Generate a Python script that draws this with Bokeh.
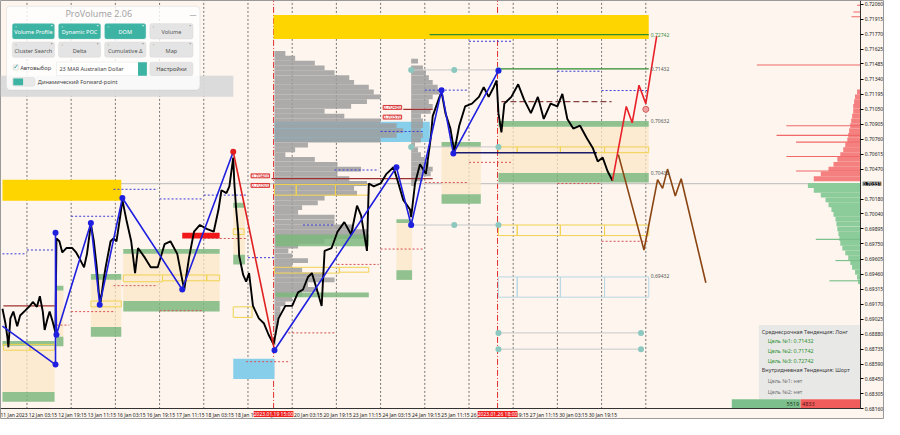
from bokeh.plotting import figure
from bokeh.models import Range1d, FixedTicker, Label, BoxAnnotation, NumeralTickFormatter, LinearAxis
from bokeh.embed import file_html
from bokeh.resources import INLINE

FONT = "Noto Sans"

# ---------------- time axis (trading hours from 11 Jan 2023 11:15) ----------------
tick_hours = [0, 16, 32, 48, 64, 80, 96, 112, 128, 144, 160, 176, 192, 208, 224, 240, 256, 272, 288, 304, 320]
tick_labels = ["11 Jan 2023", "12 Jan 03:15", "12 Jan 19:15", "13 Jan 11:15", "16 Jan 03:15", "16 Jan 19:15",
               "17 Jan 11:15", "18 Jan 03:15", "18 Jan 19:15", "19 Jan 11:15", "20 Jan 03:15", "20 Jan 19:15",
               "23 Jan 11:15", "24 Jan 03:15", "24 Jan 19:15", "25 Jan 11:15", "26 Jan 03:15", "26 Jan 19:15",
               "27 Jan 11:15", "30 Jan 03:15", "30 Jan 19:15"]
day_separators = [13.3, 37.3, 61.3, 85.3, 109.3, 133.3, 157.3, 181.3, 205.3, 229.3, 253.3, 277.3, 301.3, 325.3, 349.3]
marker_hours = [147.2, 268.8]
marker_texts = ["2023.01.19 15:00", "2023.01.26 18:00"]

price_ticks = [0.72060, 0.71915, 0.71770, 0.71625, 0.71485, 0.71340, 0.71195, 0.71050, 0.70905, 0.70760,
               0.70615, 0.70470, 0.70180, 0.70040, 0.69895, 0.69750, 0.69605, 0.69460, 0.69315, 0.69170,
               0.69025, 0.68880, 0.68735, 0.68590, 0.68450, 0.68305, 0.68160]
last_price = 0.70331

# ---------------- price path ----------------
price_h = [0, 1.6, 2.7, 3.2, 4.3, 5.9, 8.0, 9.6, 12.3, 14.9, 16.5, 18.7, 20.3, 21.9, 22.9, 24.5, 25.6, 27.2, 28.8,
           29.3, 30.9, 32.5, 34.7, 37.9, 40.0, 41.6, 44.3, 45.9, 48.0, 49.6, 51.2, 52.3, 53.3, 54.9, 56.0, 58.7,
           60.3, 61.9, 64.0, 65.1, 67.2, 69.9, 72.0, 73.6, 77.3, 80.5, 84.3, 88.0, 91.2, 94.9, 97.6, 98.7, 101.3,
           104.0, 107.2, 110.9, 114.7, 117.3, 118.9, 121.6, 123.2, 125.3, 125.9, 126.9, 128.0, 128.5, 130.7, 132.3,
           133.9, 136.0, 139.2, 141.9, 144.5, 147.2, 149.9, 153.6, 157.3, 160.5, 163.2, 165.9, 168.0, 171.2, 173.3,
           174.9, 178.7, 181.9, 185.6, 189.3, 192.5, 194.7, 197.3, 197.9, 198.9, 201.6, 205.3, 208.5, 212.3, 213.9,
           217.6, 221.3, 221.9, 224.0, 226.7, 229.9, 232.5, 233.6, 237.3, 238.4, 240.5, 243.2, 245.3, 248.0, 251.2,
           254.9, 258.7, 261.3, 264.0, 266.7, 268.3, 269.3, 270.9, 272.5, 276.3, 280.0, 283.2, 286.9, 290.7, 293.9,
           297.6, 301.3, 304.0, 306.7, 309.9, 313.6, 317.3, 320.5, 323.2, 325.9, 328.5, 331.2]
price_p = [0.69126, 0.68986, 0.68847, 0.68754, 0.69033, 0.69098, 0.68958, 0.69061, 0.69107, 0.69153, 0.69191,
           0.69144, 0.69246, 0.69098, 0.68921, 0.69033, 0.69098, 0.69005, 0.68893, 0.69803, 0.69776, 0.69668,
           0.69711, 0.69711, 0.69668, 0.69618, 0.69525, 0.69655, 0.69943, 0.69776, 0.69525, 0.69283, 0.69191,
           0.69404, 0.69525, 0.69776, 0.69803, 0.69776, 0.70026, 0.70175, 0.69989, 0.69776, 0.69469, 0.69711,
           0.69618, 0.69525, 0.69525, 0.69748, 0.69776, 0.69655, 0.69404, 0.69311, 0.69618, 0.69868, 0.69933,
           0.69896, 0.69868, 0.70082, 0.70268, 0.70240, 0.70305, 0.70583, 0.70333, 0.70082, 0.69868, 0.69636,
           0.69451, 0.69386, 0.69469, 0.69153, 0.69033, 0.68986, 0.68875, 0.68782, 0.69033, 0.69153, 0.69153,
           0.69283, 0.69311, 0.69432, 0.69469, 0.69283, 0.69153, 0.69683, 0.69711, 0.69868, 0.69961, 0.69841,
           0.70119, 0.70026, 0.69748, 0.69683, 0.70333, 0.70305, 0.70333, 0.70426, 0.70490, 0.70398, 0.70175,
           0.70082, 0.70008, 0.70333, 0.70518, 0.70426, 0.70769, 0.70983, 0.71168, 0.71215, 0.71011, 0.70862,
           0.70639, 0.70890, 0.71076, 0.71103, 0.71168, 0.71261, 0.71168, 0.71261, 0.71326, 0.71011, 0.70825,
           0.71103, 0.71168, 0.71289, 0.71141, 0.71011, 0.71168, 0.70955, 0.71103, 0.71076, 0.71196, 0.70955,
           0.70862, 0.70890, 0.70769, 0.70676, 0.70546, 0.70583, 0.70453, 0.70361]

# ---------------- zigzag swings ----------------
zz1_h = [0, 28.8, 28.8, 29.3, 48.0, 52.8, 65.1, 97.6, 125.3]
zz1_p = [0.68958, 0.68587, 0.69859, 0.68875, 0.69952, 0.69163, 0.70193, 0.69311, 0.70639]
zz_red_h = [125.3, 147.7]
zz_red_p = [0.70639, 0.68726]
zz2_h = [147.7, 213.9, 221.9, 238.4, 244.8, 269.3]
zz2_p = [0.68726, 0.70490, 0.69933, 0.71233, 0.70621, 0.71420]

# ---------------- forecasts ----------------
fc_up_h = [331.2, 338.7, 341.9, 345.6, 349.3, 355.2]
fc_up_p = [0.70361, 0.71076, 0.70918, 0.71280, 0.71103, 0.71753]
fc_dn_h = [334.4, 348.3, 355.7, 358.4, 361.1, 365.3, 368.5, 381.9]
fc_dn_p = [0.70611, 0.69692, 0.70370, 0.70286, 0.70472, 0.70212, 0.70379, 0.69376]

# ---------------- zones (upper green / beige / lower green) ----------------
zone_x0 = [0, 29.3, 48.0, 65.6, 125.3, 213.9, 238.4, 269.3]
zone_x1 = [28.3, 33.1, 64.5, 117.9, 131.7, 222.4, 259.7, 350.9]
zone_a = [0.68814, 0.69348, 0.69460, 0.69701, 0.70147, 0.69989, 0.70732, 0.70936]
zone_b = [0.68768, 0.69302, 0.69404, 0.69655, 0.70100, 0.69952, 0.70686, 0.70881]
zone_c = [0.68322, 0.68856, 0.68949, 0.69200, 0.69645, 0.69497, 0.70230, 0.70435]
zone_d = [0.68229, 0.68763, 0.68856, 0.69098, 0.69553, 0.69404, 0.70138, 0.70342]
extra_green_x0 = [148.3, 148.3]
extra_green_x1 = [198.9, 198.9]
extra_green_top = [0.69841, 0.69283]
extra_green_bot = [0.69729, 0.69237]

# yellow / red solid bands
ybar_x0 = [147.2, 0, 97.6]
ybar_x1 = [350.9, 64.5, 117.9]
ybar_top = [0.71958, 0.70370, 0.69859]
ybar_bot = [0.71726, 0.70166, 0.69803]
ybar_col = ["#FFD500", "#FFD500", "#F01818"]

# yellow outline boxes
yo_x0 = [0.5, 14.9, 48.0, 65.6, 86.9, 110.9, 125.3, 125.3, 147.7, 159.5, 180.8, 147.7, 182.9,
         269.3, 279.5, 302.9, 326.9, 269.3, 279.5, 302.9, 326.9]
yo_x1 = [14.9, 28.3, 64.5, 86.9, 110.9, 117.9, 131.2, 135.5, 159.5, 180.8, 198.9, 182.9, 198.9,
         279.5, 302.9, 326.9, 350.9, 279.5, 302.9, 326.9, 350.9]
yo_top = [0.68782, 0.68782, 0.69200, 0.69451, 0.69451, 0.69451, 0.69896, 0.69144, 0.70323, 0.70323, 0.70323,
          0.69525, 0.69525, 0.70686, 0.70686, 0.70686, 0.70686, 0.69933, 0.69933, 0.69933, 0.69933]
yo_bot = [0.68726, 0.68726, 0.69144, 0.69386, 0.69395, 0.69395, 0.69841, 0.69042, 0.70221, 0.70221, 0.70221,
          0.69469, 0.69478, 0.70630, 0.70630, 0.70630, 0.70630, 0.69831, 0.69831, 0.69831, 0.69831]
lb_x0 = [269.3, 279.5, 302.9, 326.9]
lb_x1 = [279.5, 302.9, 326.9, 350.9]
lb_top = 0.69432
lb_bot = 0.69237

# sky-blue zones
blue_x0 = [125.3, 147.7]
blue_x1 = [147.7, 232.0]
blue_top = [0.68643, 0.70927]
blue_bot = [0.68448, 0.70732]

# ---------------- volume profile 1 (base 147.7) ----------------
vp1_base = 147.7
vp1_p = [0.71586, 0.71540, 0.71493, 0.71447, 0.71401, 0.71354, 0.71308, 0.71261, 0.71215, 0.71168, 0.71122,
         0.71076, 0.71029, 0.70983, 0.70936, 0.70890, 0.70843, 0.70797, 0.70751, 0.70704, 0.70658, 0.70611,
         0.70565, 0.70518, 0.70472, 0.70426, 0.70379, 0.70333, 0.70286, 0.70240, 0.70193, 0.70147, 0.70100,
         0.70054, 0.70008, 0.69961, 0.69915, 0.69868, 0.69822, 0.69776, 0.69729, 0.69683, 0.69636, 0.69590,
         0.69543, 0.69497, 0.69451, 0.69404, 0.69358, 0.69311, 0.69265, 0.69218, 0.69172, 0.69126, 0.69079,
         0.69033, 0.68986, 0.68940, 0.68893, 0.68847, 0.68801]
vp1_right = [153.6, 158.9, 169.6, 174.9, 180.3, 188.3, 190.9, 198.9, 201.6, 205.3, 197.9, 189.3, 174.9, 185.6,
             205.3, 214.0, 217.6, 214.0, 205.3, 165.9, 158.9, 153.6, 169.6, 181.9, 194.7, 181.9, 188.3, 197.9,
             190.9, 192.5, 174.9, 171.2, 162.7, 160.5, 180.3, 180.3, 190.9, 197.9, 197.9, 174.9, 160.5, 155.2,
             157.3, 165.9, 157.3, 162.7, 174.9, 180.3, 165.9, 171.2, 162.7, 157.3, 153.6, 150.9, 150.9, 149.9,
             149.9, 148.8, 148.8, 148.3, 148.3]
# ---------------- volume profile 2 (base 221.9) ----------------
vp2_base = 221.9
vp2_p = [0.71512, 0.71447, 0.71401, 0.71354, 0.71308, 0.71261, 0.71215, 0.71168, 0.71122, 0.71076, 0.71029,
         0.70983, 0.70936, 0.70890, 0.70843, 0.70797, 0.70751, 0.70704, 0.70658, 0.70611, 0.70565, 0.70518,
         0.70472, 0.70426, 0.70379, 0.70333]
vp2_right = [225.6, 228.3, 229.9, 231.5, 233.6, 236.3, 237.3, 233.6, 231.5, 233.6, 232.5, 227.2, 228.3, 228.3,
             227.2, 228.3, 227.2, 224.0, 225.6, 227.2, 229.3, 231.5, 233.6, 232.5, 228.3, 224.0]

# ---------------- market profile on the right edge ----------------
rp_red_p = [0.71215, 0.71168, 0.71122, 0.71076, 0.71029, 0.70983, 0.70936, 0.70890, 0.70843, 0.70797, 0.70751,
            0.70704, 0.70658, 0.70611, 0.70565, 0.70518, 0.70472, 0.70426, 0.70379]
rp_red_left = [464.0, 462.9, 462.4, 461.9, 461.9, 461.3, 460.8, 460.3, 459.7, 459.2, 458.7, 457.6, 456.5, 454.9,
               453.3, 451.2, 448.5, 444.3, 440.5]
rp_green_p = [0.70314, 0.70268, 0.70221, 0.70175, 0.70128, 0.70082, 0.70036, 0.69989, 0.69943, 0.69896, 0.69850,
              0.69803, 0.69757, 0.69710, 0.69664, 0.69618, 0.69571, 0.69525, 0.69478, 0.69432, 0.69386, 0.69339]
rp_green_left = [437.3, 440.5, 444.3, 446.9, 448.5, 450.1, 451.2, 452.3, 452.8, 453.3, 453.9, 454.4, 454.9, 456.0,
                 457.6, 459.2, 460.3, 461.3, 462.9, 464.0, 464.5, 465.6]
rp_red_thin_p = [0.72051, 0.71986, 0.71940, 0.71475, 0.70890, 0.70797, 0.70732, 0.70593, 0.70453]
rp_red_thin_left = [464.0, 462.0, 461.0, 409.6, 425.6, 420.3, 430.9, 425.6, 430.9]
rp_green_thin_p = [0.69794, 0.69590, 0.69395]
rp_green_thin_left = [441.6, 452.3, 449.0]
buy_volume = 5519
sell_volume = 4833

# ---------------- horizontal levels ----------------
blue_dot_x0 = [0, 13.3, 37.3, 60.3, 85.3, 109.3, 133.3, 163.2, 180.3, 205.3, 229.3, 253.3, 301.3, 325.3]
blue_dot_x1 = [13.3, 28.3, 60.3, 84.3, 108.3, 132.3, 147.7, 180.3, 204.3, 228.3, 253.3, 276.3, 325.3, 350.9]
blue_dot_p = [0.69655, 0.69692, 0.70017, 0.70277, 0.70184, 0.70221, 0.69618, 0.69933, 0.70463, 0.70834, 0.71233,
              0.71704, 0.71415, 0.71229]
red_dot_x0 = [29.3, 37.3, 60.3, 85.3, 109.3, 132.3, 155.2, 181.9, 205.3, 229.3, 253.3, 301.3, 325.3]
red_dot_x1 = [36.3, 60.3, 84.3, 108.3, 132.3, 156.3, 180.3, 204.3, 228.3, 253.3, 276.3, 325.3, 350.9]
red_dot_p = [0.68968, 0.69098, 0.69348, 0.69107, 0.69803, 0.68615, 0.68893, 0.69553, 0.69701, 0.70342, 0.70537,
             0.70333, 0.69776]
darkred_x0 = [0.5, 146.1, 217.6]
darkred_x1 = [28.3, 233.6, 233.6]
darkred_p = [0.69153, 0.70379, 0.71048]
brown_dash_x0, brown_dash_x1, brown_dash_p = 270.9, 330.7, 0.71122
navy_x0, navy_x1, navy_p = 245.3, 322.7, 0.70630
green_lvl_x0 = [231.9, 269.3]
green_lvl_x1 = [350.9, 350.9]
green_lvl_p = [0.71768, 0.71438]
lvl_text_h = 352.0
lvl_text = ["0.72742", "0.71432", "0.70632", "0.70432", "0.69432"]
lvl_text_p = [0.71768, 0.71438, 0.70936, 0.70435, 0.69441]
box_lbl_h = [140.0, 140.0, 211.7, 211.7]
box_lbl_p = [0.70407, 0.70314, 0.71066, 0.70973]
box_lbl_t = ["0.70400", "0.70300", "0.70480", "0.70370"]
teal_line_x0 = [221.9, 221.9, 221.9, 269.3, 269.3]
teal_line_x1 = [269.3, 269.3, 269.3, 346.7, 346.7]
teal_line_p = [0.71428, 0.70686, 0.69933, 0.68893, 0.68736]
teal_dot_h = [221.9, 245.3, 269.3, 221.9, 269.3, 221.9, 245.3, 269.3, 269.3, 346.7, 269.3, 346.7]
teal_dot_p = [0.71428, 0.71428, 0.71428, 0.70686, 0.70686, 0.69933, 0.69933, 0.69933, 0.68893, 0.68893,
              0.68736, 0.68736]
target_dot_h, target_dot_p = 349.3, 0.71048

info_lines = ["Среднесрочная Тенденция: Лонг", "Цель №1: 0.71432", "Цель №2: 0.71742", "Цель №3: 0.72742",
              "Внутридневная Тенденция: Шорт", "Цель №1: нет", "Цель №2: нет"]
info_colors = ["#3a3a3a", "#2f8f2f", "#2f8f2f", "#2f8f2f", "#3a3a3a", "#707070", "#707070"]
info_indent = [0, 1, 1, 1, 0, 1, 1]
info_y = [0.68903, 0.68810, 0.68717, 0.68624, 0.68531, 0.68429, 0.68327]

# ---------------- figure: the frame covers the whole canvas, axes are pinned inside ----------------
CH0, CH1 = 0, 466            # chart area in hours
Y0, YTOP = 0.68160, 0.72097  # chart bottom price / canvas top price
XL, XR = -1.07, 478.9        # canvas extent in hours
YB = 0.68058                 # canvas bottom price
BG = "#FDF5EE"
p = figure(width=884, height=419, x_range=Range1d(XL, XR), y_range=Range1d(YB, YTOP),
           x_axis_location=None, y_axis_location=None, output_backend="svg", toolbar_location=None,
           background_fill_color=BG, border_fill_color=BG, min_border=0, min_border_left=0,
           min_border_right=0, min_border_top=0, min_border_bottom=0, outline_line_color="#9a9a9a")
p.xgrid.visible = False
p.ygrid.visible = False

LABEL_SHIFT = 6  # tick labels start at the tick (MetaTrader style)
xa = LinearAxis(fixed_location=Y0, bounds=(XL, CH1))
xa.ticker = FixedTicker(ticks=[h + LABEL_SHIFT for h in tick_hours])
xa.major_label_overrides = {h + LABEL_SHIFT: t for h, t in zip(tick_hours, tick_labels)}
xa.major_label_text_font_size = "5px"
xa.major_label_text_font = FONT
xa.major_label_text_color = "#222222"
xa.major_tick_out = 0
xa.major_tick_in = 0
xa.minor_tick_out = 0
xa.minor_tick_in = 0
xa.major_label_standoff = 3
xa.axis_line_color = "#333333"
p.add_layout(xa, "below")

ya = LinearAxis(fixed_location=CH1, bounds=(Y0, YTOP))
ya.ticker = FixedTicker(ticks=price_ticks)
ya.formatter = NumeralTickFormatter(format="0.00000")
ya.major_label_text_font_size = "5px"
ya.major_label_text_font = FONT
ya.major_label_text_color = "#222222"
ya.major_tick_out = 3
ya.major_tick_in = 0
ya.minor_tick_out = 0
ya.minor_tick_in = 0
ya.major_label_standoff = 1
ya.axis_line_color = "#333333"
p.add_layout(ya, "right")

# separators and current price line
p.segment(x0=day_separators, x1=day_separators, y0=Y0, y1=YTOP, line_color="#555555", line_dash="2 2",
          line_width=0.8)
p.segment(x0=marker_hours, x1=marker_hours, y0=Y0, y1=YTOP, line_color="#e03030", line_dash="6 2 1 2",
          line_width=1)
p.segment(x0=[CH0], x1=[CH1], y0=[last_price], y1=[last_price], line_color="#bcbcbc", line_width=1)

# yellow/red solid bands
p.quad(left=ybar_x0, right=ybar_x1, top=ybar_top, bottom=ybar_bot, fill_color=ybar_col, line_color=None)

# zones
p.quad(left=zone_x0, right=zone_x1, top=zone_b, bottom=zone_c, fill_color="#FBE7C6", fill_alpha=0.75, line_color=None)
p.quad(left=zone_x0, right=zone_x1, top=zone_a, bottom=zone_b, fill_color="#7DB77D", fill_alpha=0.85, line_color=None)
p.quad(left=zone_x0, right=zone_x1, top=zone_c, bottom=zone_d, fill_color="#7DB77D", fill_alpha=0.85, line_color=None)

# blue zones
p.quad(left=blue_x0, right=blue_x1, top=blue_top, bottom=blue_bot, fill_color="#87CEEB", line_color=None)

# volume profiles
p.hbar(y=vp1_p, left=vp1_base, right=vp1_right, height=0.000465, fill_color="#9E9E9E", fill_alpha=0.85, line_color=None)
p.hbar(y=vp2_p, left=vp2_base, right=vp2_right, height=0.000465, fill_color="#9E9E9E", fill_alpha=0.85, line_color=None)
p.quad(left=extra_green_x0, right=extra_green_x1, top=extra_green_top, bottom=extra_green_bot,
       fill_color="#7DB77D", fill_alpha=0.85, line_color=None)

# outline boxes
p.quad(left=yo_x0, right=yo_x1, top=yo_top, bottom=yo_bot, fill_color=None, line_color="#F2D250", line_width=1)
p.quad(left=lb_x0, right=lb_x1, top=lb_top, bottom=lb_bot, fill_color=None, line_color="#B8D8E6", line_width=1)

# dotted and solid levels
p.segment(x0=blue_dot_x0, x1=blue_dot_x1, y0=blue_dot_p, y1=blue_dot_p, line_color="#3a3ad8", line_dash="2 2", line_width=1)
p.segment(x0=red_dot_x0, x1=red_dot_x1, y0=red_dot_p, y1=red_dot_p, line_color="#d85050", line_dash="2 2", line_width=1)
p.segment(x0=darkred_x0, x1=darkred_x1, y0=darkred_p, y1=darkred_p, line_color="#a03030", line_width=1.2)
p.segment(x0=[brown_dash_x0], x1=[brown_dash_x1], y0=[brown_dash_p], y1=[brown_dash_p], line_color="#8b4040",
          line_dash="6 3", line_width=1.2)
p.segment(x0=green_lvl_x0, x1=green_lvl_x1, y0=green_lvl_p, y1=green_lvl_p, line_color="#2e8b2e", line_width=1.2)
p.segment(x0=teal_line_x0, x1=teal_line_x1, y0=teal_line_p, y1=teal_line_p, line_color="#c8c8c8", line_width=1)
p.scatter(x=teal_dot_h, y=teal_dot_p, size=6, fill_color="#8CC8C0", line_color=None)
p.segment(x0=[navy_x0], x1=[navy_x1], y0=[navy_p], y1=[navy_p], line_color="#1a1a70", line_width=1.4)

# price
p.line(x=price_h, y=price_p, line_color="black", line_width=1.9)

# zigzag
p.line(x=zz1_h, y=zz1_p, line_color="#1f1fe0", line_width=1.6)
p.line(x=zz2_h, y=zz2_p, line_color="#1f1fe0", line_width=1.6)
p.line(x=zz_red_h, y=zz_red_p, line_color="#e02020", line_width=1.6)
p.scatter(x=zz1_h[1:-1] + zz2_h, y=zz1_p[1:-1] + zz2_p, size=6, fill_color="#1f1fe0", line_color=None)
p.scatter(x=[zz_red_h[0]], y=[zz_red_p[0]], size=6, fill_color="#e02020", line_color=None)

# forecasts
p.line(x=fc_up_h, y=fc_up_p, line_color="#e8202a", line_width=1.6)
p.line(x=fc_dn_h, y=fc_dn_p, line_color="#8b4513", line_width=1.6)
p.scatter(x=[target_dot_h], y=[target_dot_p], size=6, fill_color="#f0a0a0", line_color="#d06060")

# right market profile
p.hbar(y=rp_red_p, left=rp_red_left, right=CH1, height=0.000465, fill_color="#F48080", line_color=None)
p.hbar(y=rp_green_p, left=rp_green_left, right=CH1, height=0.000465, fill_color="#8CCB9A", line_color=None)
p.hbar(y=rp_red_thin_p, left=rp_red_thin_left, right=CH1, height=0.00011, fill_color="#F06868", line_color=None)
p.hbar(y=rp_green_thin_p, left=rp_green_thin_left, right=CH1, height=0.00011, fill_color="#7CC08C", line_color=None)

# level texts
for t, yv in zip(lvl_text, lvl_text_p):
    p.add_layout(Label(x=lvl_text_h, y=yv, text=t, text_font=FONT, text_font_size="5px",
                       text_color="#555555" if t != "0.72742" else "#3c8c3c", text_baseline="middle"))
for t, xv, yv in zip(box_lbl_t, box_lbl_h, box_lbl_p):
    p.add_layout(Label(x=xv, y=yv, text=t, text_font=FONT, text_font_size="5px", text_color="#d02828",
                       text_align="center", text_baseline="middle", background_fill_color="#fff1f1",
                       border_line_color="#e04040"))

# info box
p.quad(left=[410.7], right=[CH1], top=[0.68968], bottom=[0.68253], fill_color="#E6E6E6", fill_alpha=0.92,
       line_color=None)
for t, c, ind, yv in zip(info_lines, info_colors, info_indent, info_y):
    p.add_layout(Label(x=412.3 + 3.2 * ind, y=yv, text=t, text_font=FONT, text_font_size="5.4px",
                       text_color=c, text_baseline="middle"))

unit = (CH1 - 396.0) / (buy_volume + sell_volume)
split = CH1 - sell_volume * unit
p.quad(left=[CH1 - (buy_volume + sell_volume) * unit, split], right=[split, CH1], top=[0.68253, 0.68253],
       bottom=[Y0, Y0], fill_color=["#7DBF8C", "#F05C5C"], line_color=None)
p.add_layout(Label(x=split - 0.8, y=0.68206, text=str(buy_volume), text_font=FONT, text_font_size="5.5px",
                   text_color="#1e3a1e", text_align="right", text_baseline="middle"))
p.add_layout(Label(x=split + 0.8, y=0.68206, text=str(sell_volume), text_font=FONT, text_font_size="5.5px",
                   text_color="#5a1010", text_align="left", text_baseline="middle"))


# ---------------- ProVolume panel (chrome, laid out in reference pixels) ----------------
def X(px):
    return (px - 2) * 8 / 15


def Y(py):
    return YTOP - py * 0.00009286


def box(l, t, r, b, fill, line=None, alpha=1.0, radius=0):
    p.add_layout(BoxAnnotation(left=X(l), right=X(r), top=Y(t), bottom=Y(b), fill_color=fill, fill_alpha=alpha,
                               line_color=line, line_width=1 if line else 0, border_radius=radius,
                               level="overlay"))


def txt(x, y, s, size="6px", color="#444444", align="left"):
    p.add_layout(Label(x=X(x), y=Y(y), text=s, text_font=FONT, text_font_size=size, text_color=color,
                       text_align=align, text_baseline="middle", level="overlay"))


box(0, 78, 237, 100, "#D9D9D9", alpha=0.95)
box(6, 6, 203, 93, "#FFFFFF", line="#C4C4C4", alpha=0.82, radius=4)
txt(100, 14, "ProVolume 2.06", size="9px", color="#A4A4A4", align="center")
txt(196, 15, "—", size="7px", color="#9a9a9a", align="center")
buttons = [("Volume Profile", 12, 55, 24, 40, True), ("Dynamic POC", 59, 102, 24, 40, True),
           ("DOM", 106, 148, 24, 40, True), ("Volume", 152, 196, 24, 40, False),
           ("Cluster Search", 12, 55, 43, 59, False), ("Delta", 59, 102, 43, 59, False),
           ("Cumulative Δ", 106, 148, 43, 59, False), ("Map", 152, 196, 43, 59, False)]
for name, l, r, t, b, on in buttons:
    box(l, t, r, b, "#3DB3A4" if on else "#E4E4E4", line="#9ad6cd" if on else "#cfcfcf", radius=2)
    txt((l + r) / 2, (t + b) / 2 + 1, name, size="5.6px", color="#ffffff" if on else "#555555", align="center")
    txt(l + 3, t + 2.5, "▫", size="4px", color="#ffffff" if on else "#888888")
    txt(r - 3, t + 2.5, "•", size="5px", color="#ffffff" if on else "#888888", align="center")
box(13, 67, 18, 72, "#ffffff", line="#9a9a9a")
txt(15.5, 69, "✓", size="7px", color="#2a9a8a", align="center")
txt(20, 70, "Автовыбор", size="5.8px", color="#444444")
box(57, 64, 149, 78, "#ffffff", line="#d0d0d0")
box(140, 64, 149, 78, "#3DB3A4")
txt(60, 71, "23 MAR Australian Dollar", size="5.5px", color="#444444")
box(152, 64, 196, 78, "#E4E4E4", line="#cfcfcf", radius=2)
txt(174, 71, "Настройки", size="5.8px", color="#444444", align="center")
box(12, 80, 35, 89, "#e8e8e8", line="#cfcfcf", radius=2)
box(13, 81, 23, 88, "#3DB3A4")
txt(38, 85, "Динамический Forward-point", size="5.6px", color="#444444")

# time markers & last price tag (drawn over the pinned axes)
for h, t in zip(marker_hours, marker_texts):
    p.add_layout(Label(x=h, y=Y0, text=t, text_font=FONT, text_font_size="5px", text_color="#ffffff",
                       background_fill_color="#ee2020", text_align="center", text_baseline="top", y_offset=-2))
p.add_layout(Label(x=CH1, y=last_price, text="0.70331", text_font=FONT, text_font_size="5px",
                   text_color="#ffffff", background_fill_color="#111111", text_align="left",
                   text_baseline="middle", x_offset=2))

open("out.html", "w").write(file_html(p, INLINE))
